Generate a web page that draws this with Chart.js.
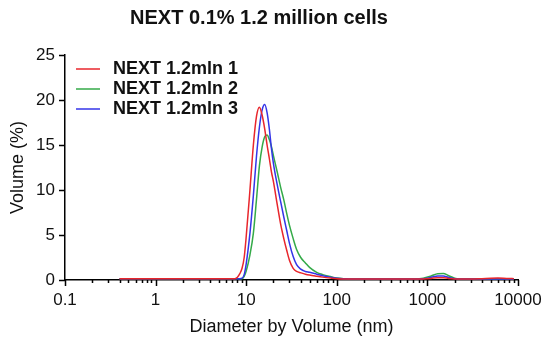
<!DOCTYPE html>
<html>
<head>
<meta charset="utf-8">
<script src="https://cdn.jsdelivr.net/npm/chart.js@4"></script>
<style>
  html, body { margin: 0; padding: 0; background: #fff; }
  #wrap { width: 549px; height: 340px; position: relative; }
</style>
</head>
<body>
<div id="wrap"><canvas id="dlsChart"></canvas></div>
<script>
// diameters (nm), shared by all runs
const diameters = [0.4, 1, 3, 6, 7.5, 8, 8.5, 9, 9.5, 10, 11, 12, 13, 14, 15, 16, 17, 18, 19, 20,
  22, 24, 26, 28, 30, 33, 36, 40, 45, 50, 60, 70, 85, 100, 120, 150, 200, 400, 700, 900,
  1100, 1300, 1500, 1700, 2000, 2400, 3000, 4000, 5000, 6000, 7500, 9000];

// volume (%) per run
const run1 = [0.15, 0.15, 0.15, 0.15, 0.15, 0.3, 0.7, 1.3, 2.5, 4.8, 10, 15, 18.2, 19.2, 18.3, 16.8, 15.0, 13.5, 12.0, 10.9,
  8.4, 6.2, 4.6, 3.3, 2.2, 1.3, 0.95, 0.8, 0.65, 0.55, 0.42, 0.32, 0.22, 0.15, 0.12, 0.1, 0.1, 0.1, 0.1, 0.12,
  0.18, 0.25, 0.25, 0.18, 0.12, 0.1, 0.1, 0.15, 0.2, 0.22, 0.18, 0.15];
const run2 = [0.15, 0.15, 0.15, 0.15, 0.15, 0.15, 0.15, 0.15, 0.4, 1.0, 2.8, 5.2, 9.0, 12.7, 14.8, 15.9, 16.1, 15.6, 14.8, 13.8,
  12.0, 10.3, 8.9, 7.4, 6.1, 4.6, 3.4, 2.5, 1.9, 1.4, 0.85, 0.6, 0.38, 0.22, 0.14, 0.1, 0.1, 0.1, 0.12, 0.2,
  0.45, 0.7, 0.72, 0.5, 0.2, 0.1, 0.1, 0.1, 0.1, 0.1, 0.1, 0.1];
const run3 = [0.15, 0.15, 0.15, 0.15, 0.15, 0.15, 0.15, 0.2, 0.6, 1.8, 5.2, 9.4, 13.8, 17.0, 18.9, 19.5, 18.6, 16.8, 14.6, 12.9,
  10.6, 8.7, 7.0, 5.5, 4.1, 2.6, 1.7, 1.2, 0.95, 0.85, 0.65, 0.48, 0.32, 0.2, 0.14, 0.1, 0.1, 0.1, 0.1, 0.15,
  0.3, 0.45, 0.45, 0.3, 0.15, 0.1, 0.1, 0.1, 0.12, 0.12, 0.1, 0.1];

const runLabels = ["NEXT 1.2mln 1", "NEXT 1.2mln 2", "NEXT 1.2mln 3"];
const runColors = ["rgb(232,38,44)", "rgb(52,170,72)", "rgb(52,52,232)"];

// axis ticks
const xMajorTicks = [0.1, 1, 10, 100, 1000, 10000];
const xMinorSteps = [2, 3, 4, 5, 6, 7, 8, 9];
const yTicks = [0, 5, 10, 15, 20, 25];

Chart.defaults.font.family = "'Liberation Sans', Arial, sans-serif";
Chart.defaults.color = "#111";

function toPoints(ys) {
  return diameters.map((d, i) => ({ x: d, y: ys[i] }));
}

// tick marks: long for decades, short for the minor ones
const tickMarks = {
  id: "tickMarks",
  afterDraw(chart) {
    const { ctx, scales: { x, y } } = chart;
    ctx.save();
    ctx.strokeStyle = "#000";
    ctx.lineWidth = 1.5;
    ctx.beginPath();
    x.ticks.forEach((t) => {
      const px = Math.round(x.getPixelForValue(t.value)) + 0.5;
      ctx.moveTo(px, x.top);
      ctx.lineTo(px, x.top + (t.major ? 6 : 3));
    });
    y.ticks.forEach((t) => {
      const py = Math.round(y.getPixelForValue(t.value)) + 0.5;
      ctx.moveTo(y.right, py);
      ctx.lineTo(y.right - 6, py);
    });
    ctx.stroke();
    ctx.restore();
  },
};

// legend sitting inside the plot, top left
const insideLegend = {
  id: "insideLegend",
  afterDraw(chart) {
    const { ctx, chartArea } = chart;
    ctx.save();
    ctx.font = "bold 18px 'Liberation Sans', Arial, sans-serif";
    ctx.textBaseline = "middle";
    ctx.fillStyle = "#111";
    chart.data.datasets.forEach((ds, i) => {
      const yy = chartArea.top + 14 + i * 20;
      ctx.strokeStyle = ds.borderColor;
      ctx.lineWidth = 1.5;
      ctx.beginPath();
      ctx.moveTo(chartArea.left + 11, yy);
      ctx.lineTo(chartArea.left + 35, yy);
      ctx.stroke();
      ctx.fillText(ds.label, chartArea.left + 48, yy);
    });
    ctx.restore();
  },
};

new Chart(document.getElementById("dlsChart").getContext("2d"), {
  type: "line",
  data: {
    datasets: [
      { label: runLabels[0], data: toPoints(run1), borderColor: runColors[0], order: 1 },
      { label: runLabels[1], data: toPoints(run2), borderColor: runColors[1], order: 3 },
      { label: runLabels[2], data: toPoints(run3), borderColor: runColors[2], order: 2 },
    ],
  },
  options: {
    responsive: true,
    maintainAspectRatio: false,
    animation: false,
    elements: {
      point: { radius: 0 },
      line: { borderWidth: 1.5, cubicInterpolationMode: "monotone", fill: false },
    },
    layout: { padding: { left: 0, right: 31, top: 0, bottom: 0 } },
    scales: {
      x: {
        type: "logarithmic",
        min: 0.1,
        max: 10000,
        afterBuildTicks(scale) {
          const ticks = [];
          xMajorTicks.forEach((m, k) => {
            ticks.push({ value: m, major: true });
            if (k < xMajorTicks.length - 1) {
              xMinorSteps.forEach((s) => ticks.push({ value: m * s, major: false }));
            }
          });
          scale.ticks = ticks;
        },
        afterFit(scale) { scale.height = 60; },
        grid: { display: false, tickLength: 8 },
        border: { display: true, color: "#000", width: 1.5 },
        ticks: {
          autoSkip: false,
          maxRotation: 0,
          padding: 2,
          font: { size: 17 },
          callback: function (value) {
            return xMajorTicks.includes(value) ? String(value) : "";
          },
        },
        title: {
          display: true,
          text: "Diameter by Volume (nm)",
          font: { size: 18 },
          padding: { top: 0, bottom: 2 },
        },
      },
      y: {
        min: 0,
        max: 25,
        afterBuildTicks(scale) {
          scale.ticks = yTicks.map((v) => ({ value: v }));
        },
        afterFit(scale) { scale.width = 65; },
        grid: { display: false, tickLength: 8 },
        border: { display: true, color: "#000", width: 1.5 },
        ticks: { padding: 2, font: { size: 17 } },
        title: {
          display: true,
          text: "Volume (%)",
          font: { size: 18 },
          padding: { top: 7, bottom: 0 },
        },
      },
    },
    plugins: {
      legend: { display: false },
      tooltip: { enabled: false },
      title: {
        display: true,
        text: "NEXT 0.1% 1.2 million cells",
        font: { size: 20, weight: "bold" },
        color: "#111",
        padding: { top: 6, bottom: 25 },
      },
    },
  },
  plugins: [tickMarks, insideLegend],
});
</script>
</body>
</html>
